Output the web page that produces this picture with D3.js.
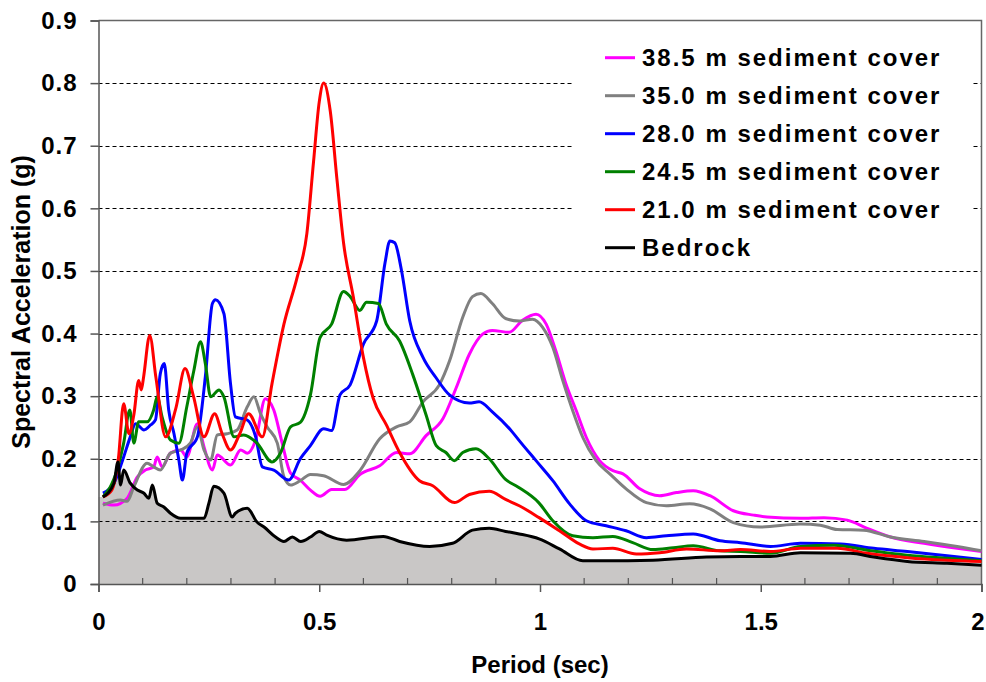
<!DOCTYPE html>
<html>
<head>
<meta charset="utf-8">
<script src="https://cdn.jsdelivr.net/npm/d3@7"></script>
<style>
  body { margin: 0; background: #fff; }
  svg { display: block; font-family: "Liberation Sans", Arial, sans-serif; font-weight: bold; }
</style>
</head>
<body>
<svg id="chart" width="986" height="682"></svg>
<script>
// period (sec), spectral acceleration (g)
const sed385 = [[0.01,0.129],[0.035,0.126],[0.065,0.137],[0.088,0.171],[0.106,0.182],[0.125,0.187],[0.133,0.203],[0.144,0.187],[0.163,0.209],[0.186,0.214],[0.2,0.203],[0.224,0.256],[0.239,0.219],[0.258,0.182],[0.269,0.206],[0.299,0.19],[0.322,0.214],[0.337,0.209],[0.356,0.23],[0.378,0.296],[0.397,0.278],[0.416,0.225],[0.435,0.177],[0.457,0.166],[0.48,0.15],[0.502,0.14],[0.528,0.151],[0.558,0.151],[0.592,0.175],[0.637,0.189],[0.675,0.21],[0.705,0.208],[0.742,0.237],[0.78,0.264],[0.81,0.313],[0.84,0.367],[0.87,0.399],[0.892,0.405],[0.93,0.402],[0.96,0.421],[0.991,0.431],[1.014,0.415],[1.036,0.372],[1.059,0.319],[1.082,0.277],[1.105,0.234],[1.135,0.197],[1.165,0.181],[1.188,0.176],[1.226,0.152],[1.271,0.141],[1.309,0.146],[1.347,0.149],[1.385,0.141],[1.438,0.117],[1.484,0.11],[1.514,0.107],[1.59,0.105],[1.643,0.106],[1.696,0.102],[1.741,0.089],[1.794,0.075],[1.87,0.065],[1.945,0.057],[2.0,0.052]];

const sed350 = [[0.01,0.126],[0.05,0.134],[0.065,0.132],[0.08,0.155],[0.11,0.193],[0.125,0.187],[0.14,0.182],[0.163,0.209],[0.186,0.214],[0.208,0.225],[0.224,0.251],[0.239,0.214],[0.254,0.198],[0.269,0.238],[0.291,0.24],[0.314,0.246],[0.337,0.283],[0.352,0.299],[0.367,0.272],[0.382,0.251],[0.405,0.225],[0.42,0.171],[0.435,0.158],[0.457,0.165],[0.48,0.175],[0.51,0.173],[0.555,0.159],[0.592,0.181],[0.637,0.232],[0.675,0.251],[0.705,0.259],[0.735,0.291],[0.772,0.318],[0.795,0.356],[0.825,0.426],[0.847,0.459],[0.866,0.464],[0.892,0.448],[0.922,0.424],[0.953,0.42],[0.983,0.423],[1.006,0.41],[1.029,0.378],[1.052,0.324],[1.074,0.277],[1.097,0.234],[1.127,0.197],[1.158,0.176],[1.195,0.152],[1.241,0.13],[1.286,0.125],[1.339,0.128],[1.385,0.12],[1.438,0.098],[1.498,0.091],[1.59,0.096],[1.635,0.094],[1.673,0.087],[1.733,0.086],[1.794,0.075],[1.87,0.068],[1.945,0.06],[2.0,0.053]];

const sed280 = [[0.01,0.145],[0.035,0.161],[0.057,0.203],[0.072,0.235],[0.084,0.256],[0.103,0.246],[0.118,0.254],[0.129,0.262],[0.14,0.336],[0.149,0.352],[0.159,0.278],[0.171,0.24],[0.182,0.198],[0.19,0.166],[0.2,0.209],[0.224,0.235],[0.242,0.331],[0.258,0.448],[0.265,0.454],[0.284,0.432],[0.299,0.32],[0.31,0.267],[0.337,0.262],[0.356,0.235],[0.371,0.187],[0.397,0.182],[0.431,0.166],[0.457,0.2],[0.48,0.221],[0.51,0.248],[0.528,0.245],[0.547,0.302],[0.57,0.318],[0.6,0.383],[0.63,0.42],[0.649,0.513],[0.66,0.548],[0.671,0.545],[0.686,0.502],[0.705,0.42],[0.735,0.362],[0.765,0.329],[0.795,0.302],[0.84,0.289],[0.862,0.291],[0.892,0.275],[0.937,0.243],[0.953,0.229],[0.991,0.197],[1.029,0.165],[1.067,0.128],[1.105,0.101],[1.15,0.093],[1.195,0.085],[1.241,0.074],[1.286,0.077],[1.347,0.08],[1.408,0.069],[1.454,0.066],[1.522,0.06],[1.59,0.065],[1.681,0.064],[1.756,0.057],[1.832,0.052],[1.922,0.045],[2.0,0.039]];

const sed245 = [[0.01,0.139],[0.042,0.182],[0.057,0.225],[0.071,0.278],[0.08,0.225],[0.091,0.259],[0.11,0.259],[0.125,0.278],[0.133,0.299],[0.144,0.267],[0.163,0.23],[0.182,0.225],[0.2,0.283],[0.216,0.341],[0.231,0.387],[0.242,0.352],[0.254,0.299],[0.273,0.31],[0.284,0.299],[0.307,0.235],[0.329,0.238],[0.359,0.225],[0.393,0.195],[0.412,0.209],[0.435,0.251],[0.457,0.258],[0.48,0.302],[0.502,0.394],[0.528,0.415],[0.555,0.467],[0.57,0.459],[0.592,0.437],[0.607,0.45],[0.634,0.448],[0.652,0.415],[0.682,0.388],[0.712,0.334],[0.742,0.27],[0.765,0.221],[0.787,0.21],[0.806,0.197],[0.825,0.21],[0.855,0.216],[0.885,0.2],[0.922,0.167],[0.95,0.155],[0.997,0.13],[1.029,0.101],[1.074,0.077],[1.12,0.074],[1.165,0.076],[1.21,0.066],[1.256,0.055],[1.302,0.058],[1.347,0.061],[1.408,0.053],[1.454,0.052],[1.522,0.049],[1.59,0.06],[1.666,0.062],[1.741,0.054],[1.832,0.046],[1.922,0.041],[2.0,0.037]];

const sed210 = [[0.01,0.139],[0.03,0.15],[0.045,0.2],[0.057,0.288],[0.069,0.24],[0.08,0.27],[0.091,0.325],[0.097,0.31],[0.102,0.33],[0.116,0.397],[0.13,0.33],[0.152,0.235],[0.175,0.28],[0.196,0.344],[0.215,0.3],[0.239,0.235],[0.263,0.272],[0.28,0.24],[0.299,0.214],[0.32,0.24],[0.34,0.272],[0.371,0.235],[0.393,0.32],[0.42,0.415],[0.45,0.49],[0.472,0.56],[0.487,0.674],[0.5,0.77],[0.51,0.8],[0.525,0.755],[0.54,0.647],[0.555,0.545],[0.577,0.459],[0.6,0.362],[0.622,0.297],[0.652,0.254],[0.682,0.21],[0.727,0.165],[0.757,0.157],[0.806,0.13],[0.84,0.143],[0.885,0.148],[0.922,0.135],[0.953,0.125],[0.998,0.106],[1.044,0.085],[1.089,0.064],[1.12,0.056],[1.165,0.057],[1.218,0.048],[1.271,0.05],[1.332,0.056],[1.408,0.053],[1.454,0.055],[1.522,0.052],[1.59,0.057],[1.673,0.057],[1.741,0.049],[1.832,0.042],[1.922,0.038],[2.0,0.036]];

const bedrock = [[0.01,0.139],[0.035,0.161],[0.044,0.195],[0.05,0.158],[0.057,0.182],[0.072,0.161],[0.088,0.15],[0.103,0.145],[0.114,0.137],[0.122,0.158],[0.133,0.129],[0.148,0.123],[0.163,0.113],[0.186,0.105],[0.239,0.105],[0.25,0.129],[0.261,0.156],[0.284,0.145],[0.303,0.107],[0.31,0.113],[0.337,0.121],[0.359,0.099],[0.375,0.091],[0.401,0.075],[0.42,0.068],[0.439,0.075],[0.458,0.068],[0.48,0.075],[0.5,0.084],[0.517,0.078],[0.562,0.07],[0.645,0.076],[0.682,0.068],[0.75,0.06],[0.802,0.065],[0.847,0.086],[0.885,0.089],[0.922,0.084],[0.953,0.08],[0.998,0.072],[1.044,0.056],[1.097,0.037],[1.142,0.037],[1.256,0.038],[1.377,0.043],[1.454,0.044],[1.522,0.044],[1.59,0.05],[1.703,0.049],[1.756,0.043],[1.832,0.036],[1.922,0.033],[2.0,0.03]];

const seriesNames = ["38.5 m sediment cover", "35.0 m sediment cover", "28.0 m sediment cover",
  "24.5 m sediment cover", "21.0 m sediment cover", "Bedrock"];
const seriesColors = ["#ff00ff", "#808080", "#0000ff", "#008000", "#ff0000", "#000000"];
const seriesData = [sed385, sed350, sed280, sed245, sed210, bedrock];

const yTicks = [0, 0.1, 0.2, 0.3, 0.4, 0.5, 0.6, 0.7, 0.8, 0.9];
const xTicks = [0, 0.5, 1, 1.5, 2];
const xMinor = d3.range(0, 21).map(d => d / 10).filter(d => Math.round(d * 10) % 5 != 0);

const svg = d3.select("#chart");
const x = d3.scaleLinear().domain([0, 2]).range([98.5, 981.5]);
const y = d3.scaleLinear().domain([0, 0.9]).range([584, 20.5]);

// gray fill under bedrock
const fillData = [[0, bedrock[0][1]]].concat(bedrock);
svg.append("path")
  .datum(fillData)
  .attr("fill", "#c9c7c6")
  .attr("d", d3.area().x(d => x(d[0])).y0(y(0)).y1(d => y(d[1])).curve(d3.curveMonotoneX));

// dashed gridlines
svg.append("g")
  .selectAll("line")
  .data(yTicks.filter(d => d > 0 && d < 0.9))
  .join("line")
  .attr("x1", x(0)).attr("x2", x(2))
  .attr("y1", d => Math.round(y(d)) + 0.5).attr("y2", d => Math.round(y(d)) + 0.5)
  .attr("stroke", "#000")
  .attr("stroke-width", 1)
  .attr("stroke-dasharray", "4,3");

// top and right frame
svg.append("path")
  .attr("d", `M${x(0)},${y(0.9)}H${x(2)}V${y(0)}`)
  .attr("fill", "none")
  .attr("stroke", "#666")
  .attr("stroke-width", 1.5);

// series lines
const line = d3.line().x(d => x(d[0])).y(d => y(d[1])).curve(d3.curveMonotoneX);
svg.append("g")
  .selectAll("path")
  .data(seriesData)
  .join("path")
  .attr("d", line)
  .attr("fill", "none")
  .attr("stroke", (d, i) => seriesColors[i])
  .attr("stroke-width", 3)
  .attr("stroke-linejoin", "round");

// axes
const yAxis = svg.append("g")
  .attr("transform", `translate(${x(0)},0)`)
  .call(d3.axisLeft(y).tickValues(yTicks).tickSize(8).tickPadding(13)
    .tickFormat(d => d == 0 ? "0" : d3.format(".1f")(d)));
yAxis.select(".domain").attr("stroke", "#555").attr("stroke-width", 1.5);
yAxis.selectAll(".tick line").attr("stroke", "#555").attr("stroke-width", 1.5);
yAxis.selectAll("text").attr("font-size", 24).attr("font-weight", "bold").attr("fill", "#000")
  .attr("font-family", "Liberation Sans, Arial, sans-serif").attr("letter-spacing", 1);

const xAxis = svg.append("g")
  .attr("transform", `translate(0,${y(0)})`)
  .call(d3.axisBottom(x).tickValues(xTicks).tickSize(8).tickPadding(21).tickFormat(d3.format("")));
xAxis.select(".domain").attr("stroke", "#555").attr("stroke-width", 1.5);
xAxis.selectAll(".tick line").attr("stroke", "#555").attr("stroke-width", 1.5);
xAxis.selectAll("text").attr("font-size", 24).attr("font-weight", "bold").attr("fill", "#000")
  .attr("font-family", "Liberation Sans, Arial, sans-serif")
  .attr("dx", d => d == 2 ? -4 : 0);

// minor ticks pointing inward
svg.append("g")
  .selectAll("line")
  .data(xMinor)
  .join("line")
  .attr("x1", d => x(d)).attr("x2", d => x(d))
  .attr("y1", y(0)).attr("y2", y(0) - 6)
  .attr("stroke", "#555")
  .attr("stroke-width", 1.2);

// axis titles
svg.append("text")
  .attr("x", 540).attr("y", 673)
  .attr("text-anchor", "middle")
  .attr("font-size", 24)
  .text("Period (sec)");

svg.append("text")
  .attr("transform", "translate(30,302) rotate(-90)")
  .attr("text-anchor", "middle")
  .attr("font-size", 25)
  .text("Spectral Acceleration (g)");

// legend
const legend = svg.append("g");
legend.append("rect")
  .attr("x", 572).attr("y", 32).attr("width", 400).attr("height", 232)
  .attr("fill", "#fff");
const rows = legend.selectAll("g.row")
  .data(seriesNames)
  .join("g")
  .attr("class", "row")
  .attr("transform", (d, i) => `translate(605,${57.7 + i * 38})`);
rows.append("line")
  .attr("x1", 0).attr("x2", 30)
  .attr("stroke", (d, i) => seriesColors[i])
  .attr("stroke-width", 3);
rows.append("text")
  .attr("x", 37).attr("y", 8.5)
  .attr("font-size", 24)
  .attr("letter-spacing", 2)
  .text(d => d);
</script>
</body>
</html>
